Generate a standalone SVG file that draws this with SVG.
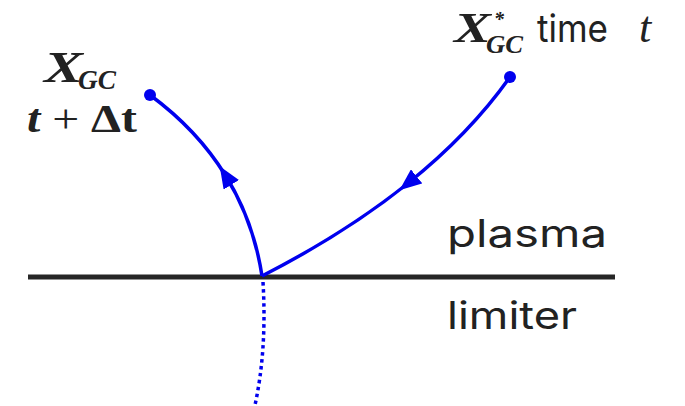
<svg xmlns="http://www.w3.org/2000/svg" width="685" height="406" viewBox="0 0 685 406">
<style>
.traj{fill:none;stroke:#0000ee;stroke-width:3.5}
.sans{font-family:Inter,"Open Sans","DejaVu Sans",sans-serif;fill:#222;font-size:38px}
.math{font-family:"Liberation Serif","DejaVu Serif",serif;font-weight:bold;font-style:italic;fill:#222}
</style>
<defs>
<marker id="arr" viewBox="0 0 22 18" refX="11" refY="9" markerWidth="22" markerHeight="18" markerUnits="userSpaceOnUse" orient="auto">
<path d="M0,0 L22,9 L0,18 Z" fill="#0000ee"/>
</marker>
</defs>
<g id="boundary">
<line x1="28" y1="277" x2="615" y2="277" stroke="#262626" stroke-width="5"/>
</g>
<g id="connectors">
<path class="traj" d="M262,276 Q253.5,220.5 225.5,175.5 Q197.5,130 150,95" marker-mid="url(#arr)"/>
<path class="traj" d="M510,77 Q470,133.5 408,183.25 Q346,233 262,276" marker-mid="url(#arr)"/>
<path d="M263,282 Q267,350 255,405" fill="none" stroke="#0000ee" stroke-width="3.5" stroke-dasharray="3.5,3.5"/>
</g>
<g id="node-new">
<circle cx="150" cy="95" r="6" fill="#0000ee"/>
<text class="math" x="44" y="82" font-size="44"><tspan textLength="39" lengthAdjust="spacingAndGlyphs">X</tspan><tspan x="78" y="89" font-size="27" textLength="38" lengthAdjust="spacingAndGlyphs">GC</tspan></text>
<text class="math" x="27" y="132" font-size="40" textLength="110" lengthAdjust="spacingAndGlyphs">t <tspan font-style="normal" font-weight="normal">+</tspan> <tspan font-style="normal">Δt</tspan></text>
</g>
<g id="node-old">
<circle cx="510" cy="77" r="6" fill="#0000ee"/>
<text class="math" x="454" y="42" font-size="42" textLength="37" lengthAdjust="spacingAndGlyphs">X</text>
<text class="math" x="494" y="26" font-size="20" font-style="normal" font-weight="normal">*</text>
<text class="math" x="486" y="53" font-size="25" textLength="37" lengthAdjust="spacingAndGlyphs">GC</text>
<text class="sans" x="537" y="42" textLength="71" lengthAdjust="spacingAndGlyphs">time</text>
<text x="639" y="42" font-family="'Liberation Serif',serif" font-style="italic" font-size="44" fill="#222">t</text>
</g>
<g id="labels">
<text class="sans" x="447" y="247" textLength="160" lengthAdjust="spacingAndGlyphs">plasma</text>
<text class="sans" x="447" y="329" textLength="130" lengthAdjust="spacingAndGlyphs">limiter</text>
</g>
</svg>
